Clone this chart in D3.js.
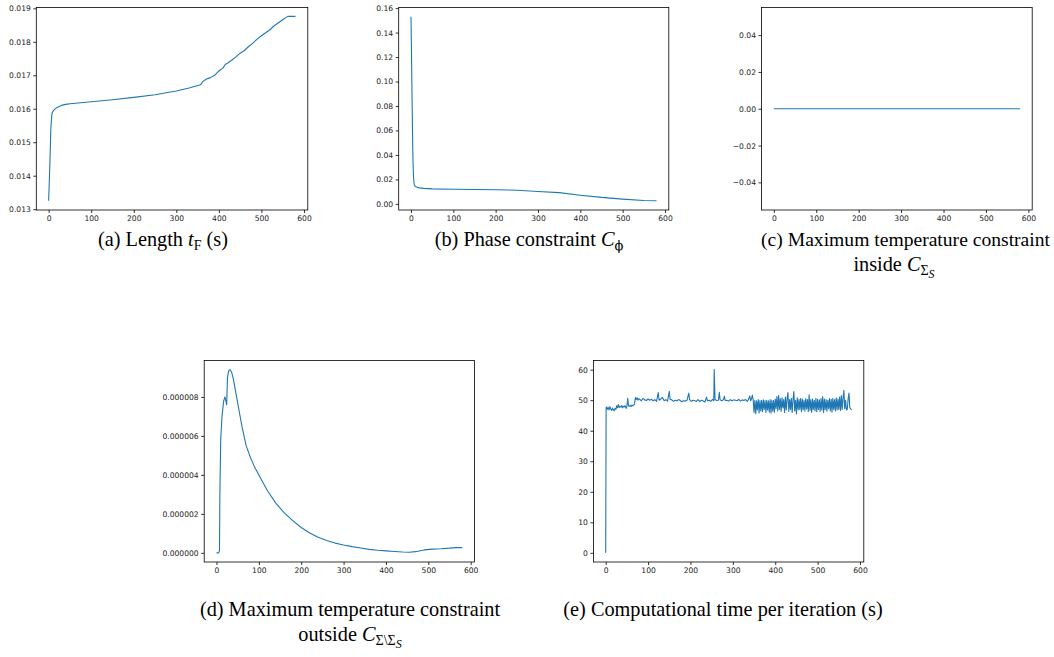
<!DOCTYPE html>
<html><head><meta charset="utf-8">
<script src="https://cdn.jsdelivr.net/npm/d3@7"></script>
<style>body{margin:0;background:#fff}svg{display:block}</style>
</head><body>
<svg id="chart" width="1054" height="657"></svg>
<script>
// ---------- data ----------
const iterTicks = [0, 100, 200, 300, 400, 500, 600];

const lengthTicks = [0.013, 0.014, 0.015, 0.016, 0.017, 0.018, 0.019];
const lengthData = [
  [0,0.01325],[2,0.0140],[4,0.0148],[5,0.01538],[7,0.01575],[8,0.01587],[10,0.01592],[13,0.01597],
  [17,0.01601],[20,0.01604],[25,0.01607],[30,0.01610],[40,0.01613],[50,0.01615],[75,0.01618],
  [100,0.01621],[150,0.01627],[200,0.01634],[250,0.01642],[300,0.01653],[330,0.01662],[355,0.01671],
  [358,0.01673],[362,0.01681],[370,0.01688],[380,0.01693],[390,0.01700],[400,0.01713],[410,0.01722],
  [415,0.01732],[420,0.01736],[430,0.01745],[440,0.01755],[450,0.01766],[460,0.01774],[470,0.01786],
  [480,0.01796],[490,0.01808],[500,0.01818],[510,0.01827],[520,0.01836],[530,0.01848],[540,0.01857],
  [550,0.01866],[558,0.01873],[562,0.01876],[580,0.01876]
];

const phaseTicks = [0, 0.02, 0.04, 0.06, 0.08, 0.10, 0.12, 0.14, 0.16];
const phaseData = [
  [0,0.153],[1,0.130],[2,0.100],[3,0.075],[4,0.050],[5,0.032],[6,0.022],[7,0.0175],[8,0.0155],
  [10,0.0142],[15,0.0135],[20,0.0131],[30,0.0127],[50,0.0123],[100,0.0120],[150,0.0118],[200,0.0115],
  [250,0.0112],[300,0.0101],[350,0.0092],[400,0.0071],[450,0.0053],[500,0.0039],[550,0.0028],[580,0.0025]
];

const insideTicks = [-0.04, -0.02, 0, 0.02, 0.04];
const insideData = [[0,0],[100,0],[200,0],[300,0],[400,0],[500,0],[580,0]];

const outsideTicks = [0, 0.000002, 0.000004, 0.000006, 0.000008];
const outsideData = [
  [0,0],[5,0],[7,0.1e-6],[8,3.0e-6],[10,5.8e-6],[13,7.0e-6],[17,7.8e-6],[20,8.0e-6],[22,7.8e-6],
  [24,7.6e-6],[26,9.0e-6],[29,9.35e-6],[32,9.4e-6],[36,9.25e-6],[40,8.9e-6],[45,8.3e-6],[50,7.7e-6],
  [55,7.1e-6],[60,6.5e-6],[65,6.0e-6],[70,5.5e-6],[80,4.9e-6],[90,4.4e-6],[100,4.0e-6],[120,3.2e-6],
  [140,2.55e-6],[160,2.05e-6],[180,1.65e-6],[200,1.3e-6],[220,1.02e-6],[240,0.8e-6],[260,0.63e-6],
  [280,0.5e-6],[300,0.4e-6],[320,0.32e-6],[340,0.25e-6],[360,0.18e-6],[380,0.13e-6],[400,0.10e-6],
  [420,0.07e-6],[440,0.04e-6],[455,0.03e-6],[470,0.06e-6],[490,0.15e-6],[510,0.19e-6],[530,0.21e-6],
  [550,0.24e-6],[565,0.27e-6],[580,0.27e-6]
];

const timeTicks = [0, 10, 20, 30, 40, 50, 60];
const timeData = [
  [0,0],[1,47.5],[2,47.8],[4,47.0],[6,47.6],[8,46.8],[10,47.9],[12,47.2],[14,46.6],[16,47.4],[18,46.9],
  [20,46.5],[22,47.3],[24,47.0],[26,48.2],[28,47.5],[30,48.6],[32,47.6],[34,48.0],[36,47.7],[38,48.3],
  [40,47.5],[42,48.0],[44,47.8],[46,48.2],[48,47.3],[50,48.0],[52,50.6],[54,48.1],[56,48.0],[58,48.3],
  [60,47.9],[62,48.4],[64,48.1],[66,48.5],[68,48.6],[70,50.9],[72,50.2],[74,50.8],[76,50.0],[78,50.5],
  [80,50.3],[84,49.8],[88,50.6],[92,50.1],[96,49.9],[100,50.4],[104,50.0],[108,50.3],[112,49.8],
  [116,50.2],[120,49.6],[124,52.5],[126,50.0],[130,50.4],[134,50.9],[138,49.8],[142,50.2],[146,49.7],
  [150,52.9],[152,50.3],[156,50.1],[160,49.6],[164,50.0],[168,49.8],[172,50.2],[176,49.9],[180,49.5],
  [184,49.8],[188,49.7],[192,50.0],[196,52.3],[198,50.2],[202,49.6],[206,50.0],[210,49.8],[214,49.6],
  [218,50.2],[222,49.5],[226,50.0],[230,49.7],[234,49.4],[238,51.0],[240,49.8],[244,50.0],[248,49.6],
  [252,50.3],[255,49.8],[256,60.0],[258,50.2],[262,49.9],[266,50.0],[268,52.6],[270,50.1],[274,49.8],
  [278,50.2],[280,51.3],[282,49.9],[286,50.0],[290,49.7],[294,50.2],[298,49.8],[302,50.1],[306,50.0],
  [310,49.8],[314,50.3],[318,49.7],[322,50.1],[326,49.9],[330,50.2],[334,49.6],[338,50.6],[340,51.4],
  [342,49.8],[344,50.4],[346,51.7],[348,50.0],
  [350,46.0],[352,50.0],[354,45.6],[356,49.8],[358,46.8],[360,50.2],[362,45.8],[364,49.9],[366,46.5],
  [368,50.0],[370,46.2],[372,50.1],[374,47.0],[376,49.9],[378,46.0],[380,50.0],[382,46.8],[384,49.8],
  [386,46.1],[388,50.2],[390,45.7],[392,50.0],[394,46.4],[396,49.9],[398,46.0],[400,50.4],[402,47.2],
  [404,51.2],[406,46.5],[408,51.5],[410,47.0],[412,50.5],[414,46.3],[416,50.8],[418,47.5],[420,50.2],
  [422,46.0],[424,51.0],[426,46.8],[428,50.5],[430,52.5],[432,46.3],[434,50.2],[436,47.0],[438,50.6],
  [440,46.0],[442,50.3],[444,52.8],[446,46.5],[448,50.0],[450,45.5],[452,50.8],[454,46.8],[456,50.3],
  [458,47.0],[460,50.5],[462,46.2],[464,50.4],[466,46.9],[468,50.0],[470,46.4],[472,50.5],[474,47.1],
  [476,50.2],[478,46.2],[480,51.8],[482,46.6],[484,50.2],[486,46.0],[488,50.4],[490,47.0],[492,50.0],
  [494,46.5],[496,50.6],[498,46.2],[500,50.3],[502,47.0],[504,50.1],[506,46.3],[508,50.5],[510,46.8],
  [512,51.2],[514,46.0],[516,50.4],[518,46.9],[520,50.2],[522,46.4],[524,50.0],[526,47.2],[528,50.5],
  [530,46.5],[532,50.3],[534,46.1],[536,50.6],[538,47.0],[540,50.2],[542,46.5],[544,50.8],[546,46.8],
  [548,50.4],[550,47.0],[552,51.0],[554,46.6],[556,51.5],[558,47.0],[560,50.6],[562,53.2],[564,47.2],
  [566,50.0],[568,46.8],[570,47.0],[572,50.4],[574,52.3],[576,47.5],[578,47.2],[580,46.8]
];

// ---------- drawing ----------
const svg = d3.select('#chart');
const BLUE = '#1f77b4';

function panel(box, yDom, yTicks, yFmt, data) {
  const x = d3.scaleLinear().domain([-29, 609]).range([box.l, box.r]);
  const y = d3.scaleLinear().domain(yDom).range([box.b, box.t]);
  const g = svg.append('g');
  g.append('path').datum(data)
    .attr('d', d3.line().x(d => x(d[0])).y(d => y(d[1])))
    .attr('fill', 'none').attr('stroke', BLUE).attr('stroke-width', 1.1)
    .attr('stroke-linejoin', 'round');
  const xa = g.append('g').attr('transform', `translate(0,${box.b})`)
    .call(d3.axisBottom(x).tickValues(iterTicks).tickSize(3).tickPadding(2.5).tickFormat(d3.format('d')));
  const ya = g.append('g').attr('transform', `translate(${box.l},0)`)
    .call(d3.axisLeft(y).tickValues(yTicks).tickSize(3).tickPadding(2.5).tickFormat(d3.format(yFmt)));
  [xa, ya].forEach(a => {
    a.select('.domain').remove();
    a.selectAll('line').attr('stroke', '#000').attr('stroke-width', 0.8);
    a.selectAll('text').attr('font-family', 'DejaVu Sans').attr('font-size', 7.6).attr('fill', '#222');
  });
  g.append('rect').attr('x', box.l).attr('y', box.t)
    .attr('width', box.r - box.l).attr('height', box.b - box.t)
    .attr('fill', 'none').attr('stroke', '#000').attr('stroke-width', 0.8);
}

panel({l:36.3, r:307.8, t:7.5, b:210}, [0.012975, 0.019025], lengthTicks, '.3f', lengthData);
panel({l:398.7, r:668.8, t:7.5, b:210}, [-0.005, 0.1605], phaseTicks, '.2f', phaseData);
panel({l:761.5, r:1032.2, t:7.5, b:210}, [-0.055, 0.055], insideTicks, '.2f', insideData);
panel({l:204.2, r:474.5, t:360.5, b:562}, [-0.47e-6, 9.87e-6], outsideTicks, '.6f', outsideData);
panel({l:593.4, r:863.8, t:360.5, b:562}, [-3, 63], timeTicks, 'd', timeData);

// ---------- captions ----------
function caption(cx, cy, parts, anchor) {
  const t = svg.append('text').attr('x', cx).attr('y', cy)
    .attr('text-anchor', anchor || 'middle').attr('font-family', 'Liberation Serif')
    .attr('font-size', 20.3).attr('fill', '#000');
  parts.forEach(p => {
    const s = t.append('tspan').text(p.t);
    if (p.i) s.attr('font-style', 'italic');
    if (p.dy) s.attr('dy', p.dy);
    if (p.fs) s.attr('font-size', p.fs);
    if (p.ff) s.attr('font-family', p.ff);
  });
  return t;
}
caption(163, 246, [{t:'(a) Length '}, {t:'t', i:1}, {t:'F', fs:14, dy:4}, {t:' (s)', dy:-4}]);
caption(529, 246, [{t:'(b) Phase constraint '}, {t:'C', i:1}, {t:'\u03D5', fs:13, dy:4, ff:'DejaVu Serif'}]);
caption(1050, 246, [{t:'(c) Maximum temperature constraint'}], 'end').attr('font-size', 19.6);
caption(894, 271, [{t:'inside '}, {t:'C', i:1}, {t:'Σ', fs:14, dy:4}, {t:'S', i:1, fs:12, dy:3}]);
caption(350, 616, [{t:'(d) Maximum temperature constraint'}]);
caption(350, 641, [{t:'outside '}, {t:'C', i:1}, {t:'Σ\\Σ', fs:14, dy:4}, {t:'S', i:1, fs:12, dy:3}]);
caption(723, 616, [{t:'(e) Computational time per iteration (s)'}]);
</script>
</body></html>
